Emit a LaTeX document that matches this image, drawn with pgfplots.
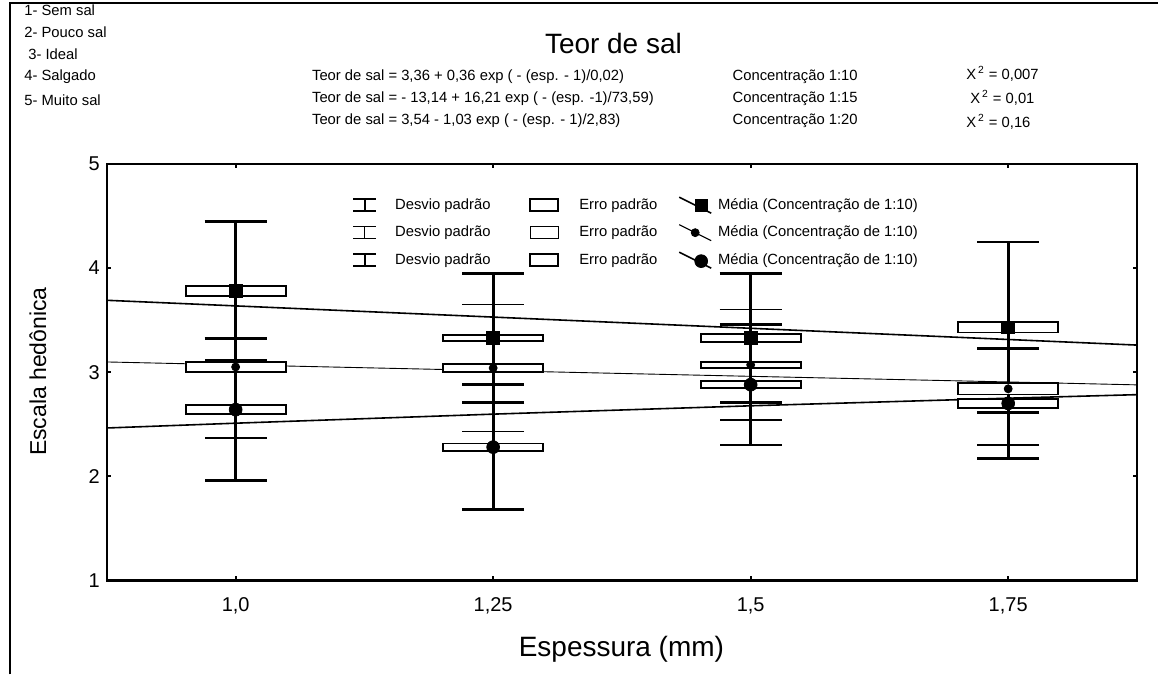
\documentclass[border=0pt]{standalone}
\usepackage{pgfplots}
\pgfplotsset{compat=1.18}
\usepackage{pgfplotstable}
\usepackage{fontspec}
\setmainfont{Liberation Sans}

% Hedonic score: mean and standard deviation per thickness
\pgfplotstableread{
x    m    sd
1.00 3.78 0.67
1.25 3.33 0.62
1.50 3.33 0.62
1.75 3.43 0.82
}\concA
\pgfplotstableread{
x    m    sd
1.00 3.05 0.68
1.25 3.04 0.61
1.50 3.07 0.53
1.75 2.84 0.54
}\concB
\pgfplotstableread{
x    m    sd
1.00 2.64 0.68
1.25 2.28 0.60
1.50 2.88 0.58
1.75 2.70 0.53
}\concC

\newcommand{\smallfont}{\fontsize{7.4}{8.8}\selectfont}

\begin{document}
\begin{tikzpicture}
\begin{scope}[x=0.5pt,y=-0.5pt]
\path (0,0) rectangle (1159,675);
\draw[line width=1.1pt] (10,675) -- (10,3) -- (1159,3);

% hedonic scale key
\begin{scope}[every node/.style={anchor=west,font=\smallfont,inner sep=0pt}]
\node at (24,10)  {1- Sem sal};
\node at (24,32)  {2- Pouco sal};
\node at (28,54)  {3- Ideal};
\node at (24,77)  {4- Salgado};
\node at (24,100) {5- Muito sal};
% fitted models
\node at (312,77)  {Teor de sal = 3,36 + 0,36 exp ( - (esp. - 1)/0,02)};
\node at (312,99)  {Teor de sal = - 13,14 + 16,21 exp ( - (esp. -1)/73,59)};
\node at (312,121) {Teor de sal = 3,54 - 1,03 exp ( - (esp. - 1)/2,83)};
\node at (733,77)  {Concentração 1:10};
\node at (733,99)  {Concentração 1:15};
\node at (733,121) {Concentração 1:20};
\node at (967,74)  {X\textsuperscript{\,2} = 0,007};
\node at (971,98)  {X\textsuperscript{\,2} = 0,01};
\node at (967,122) {X\textsuperscript{\,2} = 0,16};
\end{scope}
\node[font=\fontsize{14}{16}\selectfont] at (614,44) {Teor de sal};
\node[rotate=90,font=\fontsize{11.5}{13}\selectfont] at (38,372) {Escala hedônica};
\node[font=\fontsize{14}{16}\selectfont] at (622,650) {Espessura (mm)};
\end{scope}

\begin{axis}[
  at={(53.5pt,-290.5pt)}, anchor=south west,
  scale only axis, width=515.5pt, height=208.5pt,
  xmin=0.875, xmax=1.875, ymin=1, ymax=5,
  xtick={1,1.25,1.5,1.75},
  xticklabels={{1,0},{1,25},{1,5},{1,75}},
  ytick={1,2,3,4,5},
  yticklabels={1,2,3,4,5},
  tick label style={font=\fontsize{10}{12}\selectfont},
  xticklabel style={yshift=-5pt},
  tick align=inside, major tick length=2pt,
  axis line style={line width=1.1pt},
  every tick/.style={black,line width=0.9pt},
  clip=false,
  legend columns=3,
  legend cell align=left,
  legend style={at={(rel axis cs:0.2376,0.928)}, anchor=north west,
    draw=none, fill=none, inner sep=0pt, font=\smallfont, row sep=2.8pt,
    /tikz/every odd column/.style={column sep=0pt},
    /tikz/column 2/.style={column sep=17.5pt},
    /tikz/column 4/.style={column sep=8.5pt}},
]
% fitted curves
\addplot[forget plot, black, line width=0.8pt] coordinates {(0.875,3.69) (1.875,3.26)};
\addplot[forget plot, black, line width=0.45pt] coordinates {(0.875,3.098) (1.0,3.070) (1.25,3.015) (1.5,2.960) (1.75,2.906) (1.875,2.878)};
\addplot[forget plot, black, line width=0.8pt] coordinates {(0.875,2.464) (1.0,2.510) (1.25,2.597) (1.5,2.677) (1.75,2.750) (1.875,2.784)};

% standard deviations
\addplot[forget plot, black, only marks, mark=none,
  error bars/.cd, y dir=both, y explicit,
  error bar style={line width=1.4pt, black},
  error mark options={rotate=90, line width=1.4pt, mark size=15.5pt, black}]
  table[x=x, y=m, y error=sd] {\concA};
\addplot[forget plot, black, only marks, mark=none,
  error bars/.cd, y dir=both, y explicit,
  error bar style={line width=0.7pt, black},
  error mark options={rotate=90, line width=0.8pt, mark size=15.5pt, black}]
  table[x=x, y=m, y error=sd] {\concB};
\addplot[forget plot, black, only marks, mark=none,
  error bars/.cd, y dir=both, y explicit,
  error bar style={line width=1.4pt, black},
  error mark options={rotate=90, line width=1.4pt, mark size=15.5pt, black}]
  table[x=x, y=m, y error=sd] {\concC};

% standard errors
\pgfplotsset{sebox/.style={forget plot, draw=black, fill=white, line width=0.9pt}}
\addplot[sebox] coordinates {(0.9515,3.735) (1.0485,3.735) (1.0485,3.825) (0.9515,3.825)} -- cycle;
\addplot[sebox] coordinates {(1.2015,3.300) (1.2985,3.300) (1.2985,3.360) (1.2015,3.360)} -- cycle;
\addplot[sebox] coordinates {(1.4515,3.290) (1.5485,3.290) (1.5485,3.370) (1.4515,3.370)} -- cycle;
\addplot[sebox] coordinates {(1.7015,3.380) (1.7985,3.380) (1.7985,3.480) (1.7015,3.480)} -- cycle;
\addplot[sebox] coordinates {(0.9515,3.005) (1.0485,3.005) (1.0485,3.095) (0.9515,3.095)} -- cycle;
\addplot[sebox] coordinates {(1.2015,3.000) (1.2985,3.000) (1.2985,3.080) (1.2015,3.080)} -- cycle;
\addplot[sebox] coordinates {(1.4515,3.040) (1.5485,3.040) (1.5485,3.100) (1.4515,3.100)} -- cycle;
\addplot[sebox] coordinates {(1.7015,2.785) (1.7985,2.785) (1.7985,2.895) (1.7015,2.895)} -- cycle;
\addplot[sebox] coordinates {(0.9515,2.595) (1.0485,2.595) (1.0485,2.685) (0.9515,2.685)} -- cycle;
\addplot[sebox] coordinates {(1.2015,2.245) (1.2985,2.245) (1.2985,2.315) (1.2015,2.315)} -- cycle;
\addplot[sebox] coordinates {(1.4515,2.845) (1.5485,2.845) (1.5485,2.915) (1.4515,2.915)} -- cycle;
\addplot[sebox] coordinates {(1.7015,2.655) (1.7985,2.655) (1.7985,2.745) (1.7015,2.745)} -- cycle;

% means
\addplot[forget plot, only marks, mark=square*, mark size=3.2pt, black] table[x=x, y=m] {\concA};
\addplot[forget plot, only marks, mark=diamond*, mark size=2pt, black] table[x=x, y=m] {\concB};
\addplot[forget plot, only marks, mark=*, mark size=3.2pt, black] table[x=x, y=m] {\concC};

% legend
\addlegendimage{legend image code/.code={
  \draw[line width=1.2pt] (0pt,-3pt)--(11.5pt,-3pt) (5.75pt,-3pt)--(5.75pt,3pt) (0pt,3pt)--(11.5pt,3pt);
  \path[draw=none] (0pt,0pt)--(19pt,0pt);}}
\addlegendentry{Desvio padrão}
\addlegendimage{legend image code/.code={
  \draw[line width=0.9pt] (0pt,-3pt) rectangle (14pt,3pt);
  \path[draw=none] (0pt,0pt)--(22.5pt,0pt);}}
\addlegendentry{Erro padrão}
\addlegendimage{legend image code/.code={
  \draw[line width=0.8pt] (0pt,4pt)--(16pt,-4pt);
  \fill (8pt,-3pt) rectangle (14pt,3pt);
  \path[draw=none] (0pt,0pt)--(17.5pt,0pt);}}
\addlegendentry{Média (Concentração de 1:10)}
\addlegendimage{legend image code/.code={
  \draw[line width=0.5pt] (0pt,-3pt)--(11.5pt,-3pt) (5.75pt,-3pt)--(5.75pt,3pt) (0pt,3pt)--(11.5pt,3pt);
  \path[draw=none] (0pt,0pt)--(19pt,0pt);}}
\addlegendentry{Desvio padrão}
\addlegendimage{legend image code/.code={
  \draw[line width=0.6pt] (0pt,-3pt) rectangle (14pt,3pt);
  \path[draw=none] (0pt,0pt)--(22.5pt,0pt);}}
\addlegendentry{Erro padrão}
\addlegendimage{legend image code/.code={
  \draw[line width=0.6pt] (0pt,4pt)--(16pt,-4pt);
  \fill (8pt,0pt) circle (2pt);
  \path[draw=none] (0pt,0pt)--(17.5pt,0pt);}}
\addlegendentry{Média (Concentração de 1:10)}
\addlegendimage{legend image code/.code={
  \draw[line width=1.2pt] (0pt,-3pt)--(11.5pt,-3pt) (5.75pt,-3pt)--(5.75pt,3pt) (0pt,3pt)--(11.5pt,3pt);
  \path[draw=none] (0pt,0pt)--(19pt,0pt);}}
\addlegendentry{Desvio padrão}
\addlegendimage{legend image code/.code={
  \draw[line width=0.9pt] (0pt,-3pt) rectangle (14pt,3pt);
  \path[draw=none] (0pt,0pt)--(22.5pt,0pt);}}
\addlegendentry{Erro padrão}
\addlegendimage{legend image code/.code={
  \draw[line width=0.8pt] (0pt,4pt)--(16pt,-4pt);
  \fill (11pt,-0.5pt) circle (3.2pt);
  \path[draw=none] (0pt,0pt)--(17.5pt,0pt);}}
\addlegendentry{Média (Concentração de 1:10)}
\end{axis}
\end{tikzpicture}
\end{document}
